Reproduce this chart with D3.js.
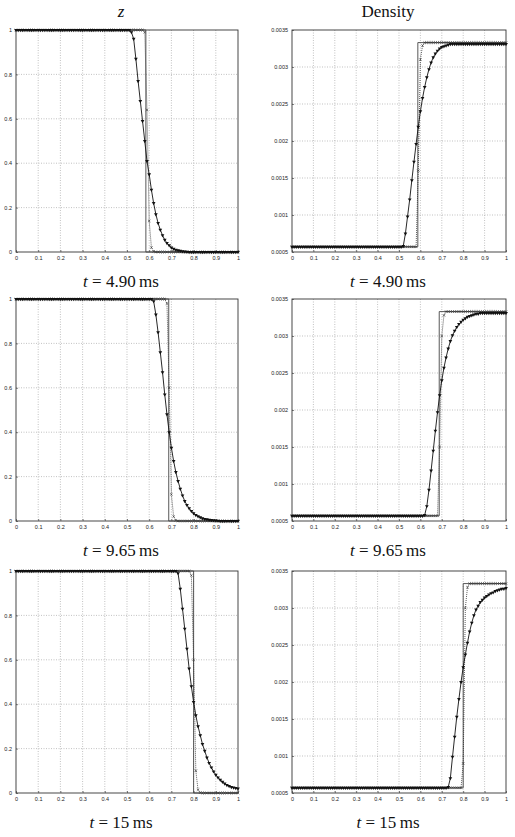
<!DOCTYPE html>
<html>
<head>
<meta charset="utf-8">
<script src="https://cdn.jsdelivr.net/npm/d3@7"></script>
<style>
  body { margin: 0; background: #fff; }
  .tick-label { font-family: "Liberation Sans", Arial, sans-serif; font-size: 5.5px; fill: #222; }
  .title { font-family: "Liberation Serif", "DejaVu Serif", serif; font-size: 17px; fill: #111; }
</style>
</head>
<body>
<div id="chart"></div>
<script>
// mesh nodes (both schemes use the same 101 nodes)
const xGrid = [0,0.01,0.02,0.03,0.04,0.05,0.06,0.07,0.08,0.09,
  0.1,0.11,0.12,0.13,0.14,0.15,0.16,0.17,0.18,0.19,
  0.2,0.21,0.22,0.23,0.24,0.25,0.26,0.27,0.28,0.29,
  0.3,0.31,0.32,0.33,0.34,0.35,0.36,0.37,0.38,0.39,
  0.4,0.41,0.42,0.43,0.44,0.45,0.46,0.47,0.48,0.49,
  0.5,0.51,0.52,0.53,0.54,0.55,0.56,0.57,0.58,0.59,
  0.6,0.61,0.62,0.63,0.64,0.65,0.66,0.67,0.68,0.69,
  0.7,0.71,0.72,0.73,0.74,0.75,0.76,0.77,0.78,0.79,
  0.8,0.81,0.82,0.83,0.84,0.85,0.86,0.87,0.88,0.89,
  0.9,0.91,0.92,0.93,0.94,0.95,0.96,0.97,0.98,0.99,1];

const xTicks = [0,0.1,0.2,0.3,0.4,0.5,0.6,0.7,0.8,0.9,1];
const zTicks = [0,0.2,0.4,0.6,0.8,1];
const densityTicks = [0.0005,0.001,0.0015,0.002,0.0025,0.003,0.0035];
const columnTitles = ["z", "Density"];
const timeLabels = ["4.90", "9.65", "15"];

// ---- z, t = 4.90 ms
const zTri490 = [1,1,1,1,1,1,1,1,1,1, 1,1,1,1,1,1,1,1,1,1, 1,1,1,1,1,1,1,1,1,1,
  1,1,1,1,1,1,1,1,1,1, 1,1,1,1,1,1,1,1,1,1, 1,1,
  0.99,0.96,0.87,0.77,0.68,0.59,0.50,0.41,0.35,0.28,0.22,0.17,0.13,0.10,0.075,0.055,
  0.04,0.03,0.02,0.014,0.01,0.007,0.005,0.003,0.002,0.001,
  0,0,0,0,0,0,0,0,0,0, 0,0,0,0,0,0,0,0,0,0, 0,0,0];
const zCross490 = [1,1,1,1,1,1,1,1,1,1, 1,1,1,1,1,1,1,1,1,1, 1,1,1,1,1,1,1,1,1,1,
  1,1,1,1,1,1,1,1,1,1, 1,1,1,1,1,1,1,1,1,1, 1,1,1,1,1,1,1,1,
  0.99,0.64,0.14,0.02,0.003,
  0,0,0,0,0,0,0,0,0,0, 0,0,0,0,0,0,0,0,0,0, 0,0,0,0,0,0,0,0,0,0, 0,0,0,0,0,0,0,0];
const zExactX490 = [0, 0.585, 0.585, 1];
const zExactY490 = [1, 1, 0, 0];

// ---- z, t = 9.65 ms
const zTri965 = [1,1,1,1,1,1,1,1,1,1, 1,1,1,1,1,1,1,1,1,1, 1,1,1,1,1,1,1,1,1,1,
  1,1,1,1,1,1,1,1,1,1, 1,1,1,1,1,1,1,1,1,1, 1,1,1,1,1,1,1,1,1,1, 1,1,
  0.99,0.93,0.85,0.76,0.67,0.57,0.48,0.40,0.33,0.27,0.22,0.18,0.145,0.115,0.09,
  0.072,0.057,0.045,0.035,0.027,0.021,0.016,0.012,0.009,0.007,0.005,0.004,0.003,0.002,0.001,
  0,0,0,0,0,0,0,0,0];
const zCross965 = [1,1,1,1,1,1,1,1,1,1, 1,1,1,1,1,1,1,1,1,1, 1,1,1,1,1,1,1,1,1,1,
  1,1,1,1,1,1,1,1,1,1, 1,1,1,1,1,1,1,1,1,1, 1,1,1,1,1,1,1,1,1,1, 1,1,1,1,1,1,1,1,
  0.98,0.6,0.12,0.02,0.003,
  0,0,0,0,0,0,0,0,0,0, 0,0,0,0,0,0,0,0,0,0, 0,0,0,0,0,0,0,0];
const zExactX965 = [0, 0.688, 0.688, 1];
const zExactY965 = [1, 1, 0, 0];

// ---- z, t = 15 ms
const zTri15 = [1,1,1,1,1,1,1,1,1,1, 1,1,1,1,1,1,1,1,1,1, 1,1,1,1,1,1,1,1,1,1,
  1,1,1,1,1,1,1,1,1,1, 1,1,1,1,1,1,1,1,1,1, 1,1,1,1,1,1,1,1,1,1, 1,1,1,1,1,1,1,1,1,1,
  1,1,1,
  0.99,0.92,0.83,0.74,0.65,0.56,0.48,0.41,0.35,0.30,0.26,0.22,0.19,0.16,0.135,0.115,
  0.097,0.082,0.07,0.059,0.05,0.042,0.036,0.031,0.027,0.024,0.022,0.02];
const zCross15 = [1,1,1,1,1,1,1,1,1,1, 1,1,1,1,1,1,1,1,1,1, 1,1,1,1,1,1,1,1,1,1,
  1,1,1,1,1,1,1,1,1,1, 1,1,1,1,1,1,1,1,1,1, 1,1,1,1,1,1,1,1,1,1, 1,1,1,1,1,1,1,1,1,1,
  1,1,1,1,1,1,1,1,1,
  0.98,0.6,0.1,0.015,0.002,
  0,0,0,0,0,0,0,0,0,0, 0,0,0,0,0,0,0];
const zExactX15 = [0, 0.8, 0.8, 1];
const zExactY15 = [1, 1, 0, 0];

// ---- density, t = 4.90 ms
const dTri490 = [0.00057,0.00057,0.00057,0.00057,0.00057,0.00057,0.00057,0.00057,0.00057,0.00057,
  0.00057,0.00057,0.00057,0.00057,0.00057,0.00057,0.00057,0.00057,0.00057,0.00057,
  0.00057,0.00057,0.00057,0.00057,0.00057,0.00057,0.00057,0.00057,0.00057,0.00057,
  0.00057,0.00057,0.00057,0.00057,0.00057,0.00057,0.00057,0.00057,0.00057,0.00057,
  0.00057,0.00057,0.00057,0.00057,0.00057,0.00057,0.00057,0.00057,0.00057,0.00057,
  0.00057,0.00057,
  0.00058,0.00075,0.00098,0.00121,0.00147,0.00172,0.00196,0.00219,0.0024,0.00258,
  0.00273,0.00286,0.00297,0.00306,0.00313,0.00318,0.00322,0.00325,0.00327,0.00328,0.00329,0.0033,
  0.00331,0.00331,0.00331,0.00331,0.00331,0.00331,0.00331,0.00331,0.00331,0.00331,
  0.00331,0.00331,0.00331,0.00331,0.00331,0.00331,0.00331,0.00331,0.00331,0.00331,
  0.00331,0.00331,0.00331,0.00331,0.00331,0.00331,0.00331];
const dCross490 = [0.00057,0.00057,0.00057,0.00057,0.00057,0.00057,0.00057,0.00057,0.00057,0.00057,
  0.00057,0.00057,0.00057,0.00057,0.00057,0.00057,0.00057,0.00057,0.00057,0.00057,
  0.00057,0.00057,0.00057,0.00057,0.00057,0.00057,0.00057,0.00057,0.00057,0.00057,
  0.00057,0.00057,0.00057,0.00057,0.00057,0.00057,0.00057,0.00057,0.00057,0.00057,
  0.00057,0.00057,0.00057,0.00057,0.00057,0.00057,0.00057,0.00057,0.00057,0.00057,
  0.00057,0.00057,0.00057,0.00057,0.00057,0.00057,0.00057,0.00057,0.00057,
  0.0016,0.0031,0.00329,
  0.00333,0.00333,0.00333,0.00333,0.00333,0.00333,0.00333,0.00333,0.00333,0.00333,
  0.00333,0.00333,0.00333,0.00333,0.00333,0.00333,0.00333,0.00333,0.00333,0.00333,
  0.00333,0.00333,0.00333,0.00333,0.00333,0.00333,0.00333,0.00333,0.00333,0.00333,
  0.00333,0.00333,0.00333,0.00333,0.00333,0.00333,0.00333,0.00333,0.00333];
const dExactX490 = [0, 0.588, 0.588, 1];
const dExactY490 = [0.00057, 0.00057, 0.00333, 0.00333];

// ---- density, t = 9.65 ms
const dTri965 = [0.00057,0.00057,0.00057,0.00057,0.00057,0.00057,0.00057,0.00057,0.00057,0.00057,
  0.00057,0.00057,0.00057,0.00057,0.00057,0.00057,0.00057,0.00057,0.00057,0.00057,
  0.00057,0.00057,0.00057,0.00057,0.00057,0.00057,0.00057,0.00057,0.00057,0.00057,
  0.00057,0.00057,0.00057,0.00057,0.00057,0.00057,0.00057,0.00057,0.00057,0.00057,
  0.00057,0.00057,0.00057,0.00057,0.00057,0.00057,0.00057,0.00057,0.00057,0.00057,
  0.00057,0.00057,0.00057,0.00057,0.00057,0.00057,0.00057,0.00057,0.00057,0.00057,
  0.00057,0.00057,
  0.00058,0.0007,0.00092,0.00118,0.00145,0.00172,0.00197,0.0022,0.0024,0.00257,
  0.00271,0.00283,0.00293,0.00301,0.00307,0.00312,0.00316,0.00319,0.00322,0.00324,
  0.00326,0.00327,0.00328,0.00329,0.0033,0.0033,
  0.00331,0.00331,0.00331,0.00331,0.00331,0.00331,0.00331,0.00331,0.00331,0.00331,
  0.00331,0.00331,0.00331];
const dCross965 = [0.00057,0.00057,0.00057,0.00057,0.00057,0.00057,0.00057,0.00057,0.00057,0.00057,
  0.00057,0.00057,0.00057,0.00057,0.00057,0.00057,0.00057,0.00057,0.00057,0.00057,
  0.00057,0.00057,0.00057,0.00057,0.00057,0.00057,0.00057,0.00057,0.00057,0.00057,
  0.00057,0.00057,0.00057,0.00057,0.00057,0.00057,0.00057,0.00057,0.00057,0.00057,
  0.00057,0.00057,0.00057,0.00057,0.00057,0.00057,0.00057,0.00057,0.00057,0.00057,
  0.00057,0.00057,0.00057,0.00057,0.00057,0.00057,0.00057,0.00057,0.00057,0.00057,
  0.00057,0.00057,0.00057,0.00057,0.00057,0.00057,0.00057,0.00057,0.00057,
  0.0015,0.003,0.00328,
  0.00333,0.00333,0.00333,0.00333,0.00333,0.00333,0.00333,0.00333,0.00333,0.00333,
  0.00333,0.00333,0.00333,0.00333,0.00333,0.00333,0.00333,0.00333,0.00333,0.00333,
  0.00333,0.00333,0.00333,0.00333,0.00333,0.00333,0.00333,0.00333,0.00333];
const dExactX965 = [0, 0.688, 0.688, 1];
const dExactY965 = [0.00057, 0.00057, 0.00333, 0.00333];

// ---- density, t = 15 ms
const dTri15 = [0.00057,0.00057,0.00057,0.00057,0.00057,0.00057,0.00057,0.00057,0.00057,0.00057,
  0.00057,0.00057,0.00057,0.00057,0.00057,0.00057,0.00057,0.00057,0.00057,0.00057,
  0.00057,0.00057,0.00057,0.00057,0.00057,0.00057,0.00057,0.00057,0.00057,0.00057,
  0.00057,0.00057,0.00057,0.00057,0.00057,0.00057,0.00057,0.00057,0.00057,0.00057,
  0.00057,0.00057,0.00057,0.00057,0.00057,0.00057,0.00057,0.00057,0.00057,0.00057,
  0.00057,0.00057,0.00057,0.00057,0.00057,0.00057,0.00057,0.00057,0.00057,0.00057,
  0.00057,0.00057,0.00057,0.00057,0.00057,0.00057,0.00057,0.00057,0.00057,0.00057,
  0.00057,0.00057,0.00057,
  0.00058,0.0007,0.00099,0.00126,0.00153,0.00177,0.002,0.0022,0.00237,0.00253,
  0.00268,0.0028,0.0029,0.00298,0.00303,0.00308,0.00311,0.00314,0.00316,0.00318,
  0.0032,0.00321,0.00323,0.00324,0.00325,0.00326,0.00326,0.00327];
const dCross15 = [0.00057,0.00057,0.00057,0.00057,0.00057,0.00057,0.00057,0.00057,0.00057,0.00057,
  0.00057,0.00057,0.00057,0.00057,0.00057,0.00057,0.00057,0.00057,0.00057,0.00057,
  0.00057,0.00057,0.00057,0.00057,0.00057,0.00057,0.00057,0.00057,0.00057,0.00057,
  0.00057,0.00057,0.00057,0.00057,0.00057,0.00057,0.00057,0.00057,0.00057,0.00057,
  0.00057,0.00057,0.00057,0.00057,0.00057,0.00057,0.00057,0.00057,0.00057,0.00057,
  0.00057,0.00057,0.00057,0.00057,0.00057,0.00057,0.00057,0.00057,0.00057,0.00057,
  0.00057,0.00057,0.00057,0.00057,0.00057,0.00057,0.00057,0.00057,0.00057,0.00057,
  0.00057,0.00057,0.00057,0.00057,0.00057,0.00057,0.00057,0.00057,0.00057,0.00057,
  0.0009,0.003,0.00328,
  0.00333,0.00333,0.00333,0.00333,0.00333,0.00333,0.00333,0.00333,0.00333,0.00333,
  0.00333,0.00333,0.00333,0.00333,0.00333,0.00333,0.00333,0.00333];
const dExactX15 = [0, 0.8, 0.8, 1];
const dExactY15 = [0.00057, 0.00057, 0.00333, 0.00333];

// layout
const svgWidth = 515, svgHeight = 837;
const colLeft = [16, 292], colWidth = [222, 214];
const colCenter = [121, 388];
const rowTop = [30, 299, 571], panelHeight = 222;

const panels = [
  {row: 0, col: 0, tri: zTri490, cross: zCross490, ex: zExactX490, ey: zExactY490},
  {row: 0, col: 1, tri: dTri490, cross: dCross490, ex: dExactX490, ey: dExactY490},
  {row: 1, col: 0, tri: zTri965, cross: zCross965, ex: zExactX965, ey: zExactY965},
  {row: 1, col: 1, tri: dTri965, cross: dCross965, ex: dExactX965, ey: dExactY965},
  {row: 2, col: 0, tri: zTri15, cross: zCross15, ex: zExactX15, ey: zExactY15},
  {row: 2, col: 1, tri: dTri15, cross: dCross15, ex: dExactX15, ey: dExactY15}
];

const svg = d3.select("#chart").append("svg")
    .attr("width", svgWidth)
    .attr("height", svgHeight)
    .style("background", "#fff");

panels.forEach(p => {
    if (p.tri.length !== xGrid.length || p.cross.length !== xGrid.length) {
        console.error("length mismatch", p.row, p.col, p.tri.length, p.cross.length);
    }
    const w = colWidth[p.col], h = panelHeight;
    const yTicks = p.col === 0 ? zTicks : densityTicks;

    const x = d3.scaleLinear().domain([0, 1]).range([0, w]);
    const y = d3.scaleLinear().domain(d3.extent(yTicks)).range([h, 0]);

    const g = svg.append("g")
        .attr("transform", `translate(${colLeft[p.col]}, ${rowTop[p.row]})`);

    // dotted grid
    g.append("g").selectAll("line").data(xTicks.slice(1, -1)).join("line")
        .attr("x1", d => x(d)).attr("x2", d => x(d))
        .attr("y1", 0).attr("y2", h)
        .attr("stroke", "#999").attr("stroke-width", 0.6).attr("stroke-dasharray", "1,1.5");
    g.append("g").selectAll("line").data(yTicks.slice(1, -1)).join("line")
        .attr("y1", d => y(d)).attr("y2", d => y(d))
        .attr("x1", 0).attr("x2", w)
        .attr("stroke", "#999").attr("stroke-width", 0.6).attr("stroke-dasharray", "1,1.5");

    // axes (labels only, frame drawn separately)
    const xAxis = g.append("g")
        .attr("transform", `translate(0, ${h})`)
        .call(d3.axisBottom(x).tickValues(xTicks).tickSize(2).tickPadding(2).tickFormat(d => String(d)));
    const yAxis = g.append("g")
        .call(d3.axisLeft(y).tickValues(yTicks).tickSize(2).tickPadding(2).tickFormat(d => String(d)));
    [xAxis, yAxis].forEach(a => {
        a.select(".domain").remove();
        a.selectAll(".tick line").attr("stroke", "#333").attr("stroke-width", 0.6);
        a.selectAll(".tick text").attr("class", "tick-label").attr("font-size", null).attr("font-family", null);
    });
    xAxis.selectAll(".tick line").attr("y2", -2);
    yAxis.selectAll(".tick line").attr("x2", 2);

    // frame
    g.append("rect")
        .attr("width", w).attr("height", h)
        .attr("fill", "none").attr("stroke", "#333").attr("stroke-width", 0.9);

    // exact solution
    g.append("path")
        .datum(p.ex.map((v, i) => [v, p.ey[i]]))
        .attr("fill", "none").attr("stroke", "#444").attr("stroke-width", 0.9)
        .attr("d", d3.line().x(d => x(d[0])).y(d => y(d[1])));

    // sharp scheme: dotted line with crosses
    const crossPts = xGrid.map((v, i) => [v, p.cross[i]]);
    g.append("path")
        .datum(crossPts)
        .attr("fill", "none").attr("stroke", "#333").attr("stroke-width", 0.8)
        .attr("stroke-dasharray", "1,1")
        .attr("d", d3.line().x(d => x(d[0])).y(d => y(d[1])));
    g.append("g").selectAll("path").data(crossPts).join("path")
        .attr("transform", d => `translate(${x(d[0])}, ${y(d[1])})`)
        .attr("d", d3.symbol(d3.symbolX, 5))
        .attr("fill", "none").attr("stroke", "#333").attr("stroke-width", 0.6);

    // diffusive scheme: solid line with down triangles
    const triPts = xGrid.map((v, i) => [v, p.tri[i]]);
    g.append("path")
        .datum(triPts)
        .attr("fill", "none").attr("stroke", "#111").attr("stroke-width", 0.9)
        .attr("d", d3.line().x(d => x(d[0])).y(d => y(d[1])));
    g.append("g").selectAll("path").data(triPts).join("path")
        .attr("transform", d => `translate(${x(d[0])}, ${y(d[1])}) rotate(180)`)
        .attr("d", d3.symbol(d3.symbolTriangle, 6))
        .attr("fill", "#111");

    // caption
    const cap = svg.append("text")
        .attr("class", "title")
        .attr("x", colCenter[p.col])
        .attr("y", rowTop[p.row] + h + 35)
        .attr("text-anchor", "middle");
    cap.append("tspan").attr("font-style", "italic").text("t");
    cap.append("tspan").text(` = ${timeLabels[p.row]}\u2009ms`);
});

// column titles
svg.selectAll("text.col-title").data(columnTitles).join("text")
    .attr("class", "title col-title")
    .attr("x", (d, i) => colCenter[i])
    .attr("y", 17)
    .attr("text-anchor", "middle")
    .attr("font-style", (d, i) => i === 0 ? "italic" : "normal")
    .text(d => d);
</script>
</body>
</html>
